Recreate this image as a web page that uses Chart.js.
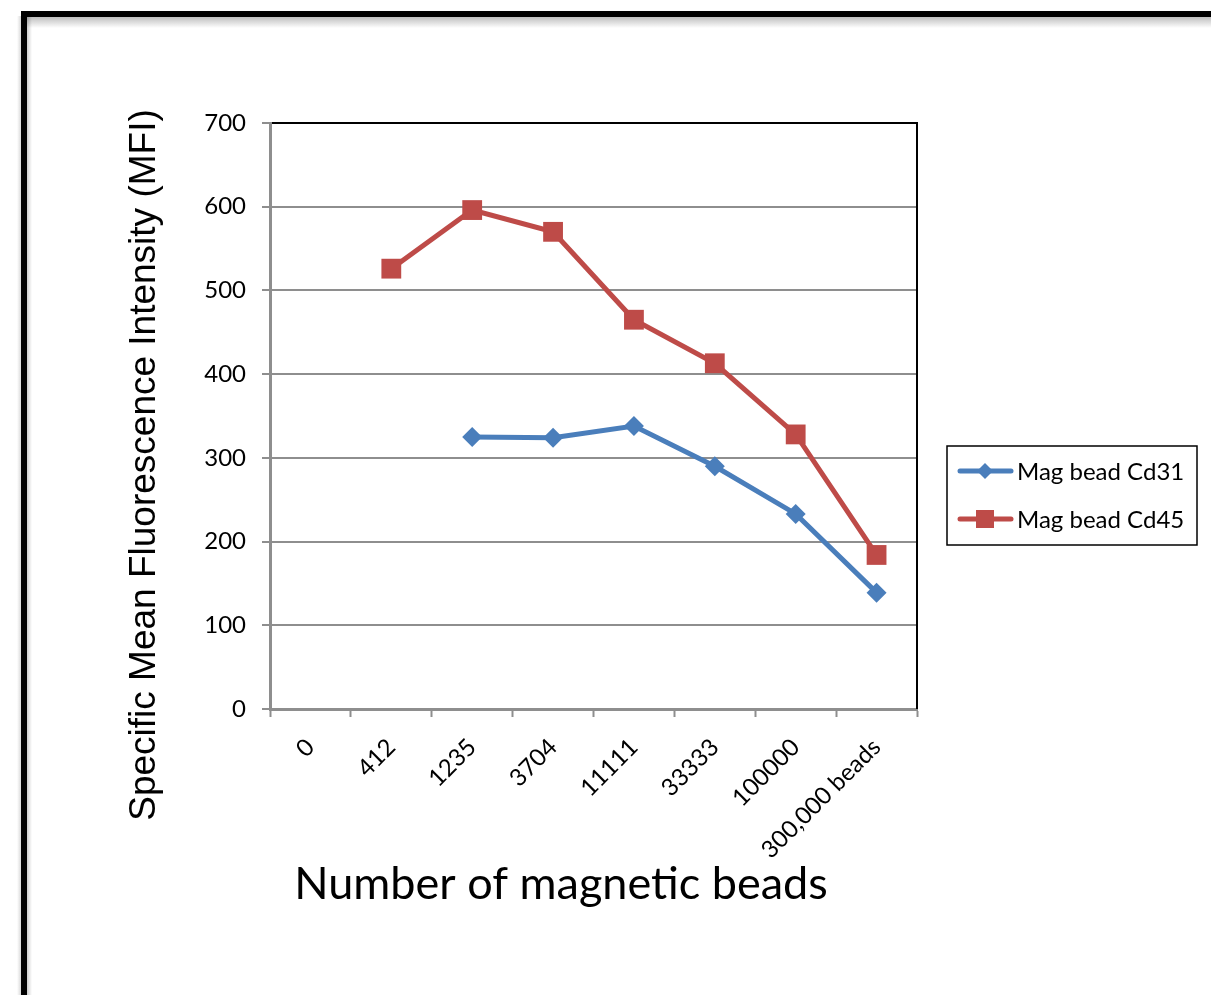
<!DOCTYPE html>
<html>
<head>
<meta charset="utf-8">
<script src="https://cdn.jsdelivr.net/npm/chart.js@4.4.0/dist/chart.umd.min.js"></script>
<style>
html,body{margin:0;padding:0;background:#fff;}
#c{display:block;}
</style>
</head>
<body>
<canvas id="c" width="1211" height="995"></canvas>
<script>
const categories = ['0', '412', '1235', '3704', '11111', '33333', '100000', '300,000 beads'];
const cd31Values = [null, null, 325, 324, 338, 290, 233, 139];
const cd45Values = [null, 526, 596, 570, 465, 413, 328, 184];
const seriesNames = ['Mag bead Cd31', 'Mag bead Cd45'];
const yTickValues = [0, 100, 200, 300, 400, 500, 600, 700];
const xAxisTitle = 'Number of magnetic beads';
const yAxisTitle = 'Specific Mean Fluorescence Intensity (MFI)';

const BLUE = '#4A7EBB';
const RED = '#BE4B48';
const GRID = '#8e8e8e';
const TICKFONT = 'Lato';

const framePlugin = {
  id: 'frame',
  beforeDraw(chart) {
    const ctx = chart.ctx;
    ctx.save();
    ctx.fillStyle = '#fff';
    ctx.fillRect(0, 0, chart.width, chart.height);
    let g = ctx.createLinearGradient(0, 16, 0, 28);
    g.addColorStop(0, 'rgba(0,0,0,0.28)');
    g.addColorStop(1, 'rgba(0,0,0,0)');
    ctx.fillStyle = g;
    ctx.fillRect(26, 16, chart.width, 12);
    g = ctx.createLinearGradient(27, 0, 32, 0);
    g.addColorStop(0, 'rgba(0,0,0,0.2)');
    g.addColorStop(1, 'rgba(0,0,0,0)');
    ctx.fillStyle = g;
    ctx.fillRect(27, 16, 5, chart.height);
    g = ctx.createLinearGradient(17, 0, 21, 0);
    g.addColorStop(0, 'rgba(0,0,0,0)');
    g.addColorStop(1, 'rgba(0,0,0,0.15)');
    ctx.fillStyle = g;
    ctx.fillRect(17, 16, 4, chart.height);
    ctx.fillStyle = '#000';
    ctx.fillRect(21, 11, chart.width, 6);
    ctx.fillRect(21, 11, 6, chart.height);
    ctx.restore();
  },
  beforeDatasetsDraw(chart) {
    const ctx = chart.ctx;
    const a = chart.chartArea;
    ctx.save();
    ctx.strokeStyle = '#000';
    ctx.lineWidth = 2;
    ctx.beginPath();
    ctx.moveTo(a.right, a.top - 1);
    ctx.lineTo(a.right, a.bottom);
    ctx.stroke();
    ctx.restore();
  },
  afterDraw(chart) {
    const ctx = chart.ctx;
    ctx.save();
    ctx.fillStyle = '#000';
    ctx.textAlign = 'center';
    ctx.textBaseline = 'alphabetic';
    ctx.font = '45px ' + TICKFONT;
    ctx.fillText(xAxisTitle, 561, 899);
    ctx.save();
    ctx.translate(155, 465);
    ctx.rotate(-Math.PI / 2);
    ctx.font = '37px "Liberation Sans"';
    ctx.fillText(yAxisTitle, 0, 0);
    ctx.restore();

    const bx = 947, by = 446, bw = 250, bh = 99;
    ctx.strokeStyle = '#000';
    ctx.lineWidth = 1.5;
    ctx.strokeRect(bx, by, bw, bh);
    const items = chart.data.datasets;
    const ys = [471, 519];
    items.forEach((ds, i) => {
      const y = ys[i];
      ctx.strokeStyle = ds.borderColor;
      ctx.lineWidth = 5;
      ctx.lineCap = 'round';
      ctx.beginPath();
      ctx.moveTo(960, y);
      ctx.lineTo(1011, y);
      ctx.stroke();
      ctx.fillStyle = ds.borderColor;
      if (ds.pointStyle === 'rectRot') {
        ctx.beginPath();
        ctx.moveTo(985 - 8, y);
        ctx.lineTo(985, y - 8);
        ctx.lineTo(985 + 8, y);
        ctx.lineTo(985, y + 8);
        ctx.closePath();
        ctx.fill();
      } else {
        ctx.fillRect(985 - 9, y - 9, 18, 18);
      }
      ctx.fillStyle = '#000';
      ctx.textAlign = 'left';
      ctx.textBaseline = 'middle';
      ctx.font = '24px ' + TICKFONT;
      ctx.fillText(ds.label, 1017, y + 1);
    });
    ctx.restore();
  }
};

new Chart(document.getElementById('c'), {
  type: 'line',
  data: {
    labels: categories,
    datasets: [
      {
        label: seriesNames[0],
        data: cd31Values,
        borderColor: BLUE,
        backgroundColor: BLUE,
        borderWidth: 5,
        pointStyle: 'rectRot',
        pointRadius: 10,
        pointBorderWidth: 0,
        pointHoverRadius: 10,
        tension: 0
      },
      {
        label: seriesNames[1],
        data: cd45Values,
        borderColor: RED,
        backgroundColor: RED,
        borderWidth: 5,
        pointStyle: 'rect',
        pointRadius: 14,
        pointBorderWidth: 0,
        pointHoverRadius: 14,
        tension: 0
      }
    ]
  },
  options: {
    responsive: false,
    animation: false,
    events: [],
    layout: { padding: { left: 0, top: 123, right: 294, bottom: 0 } },
    plugins: { legend: { display: false }, tooltip: { enabled: false }, title: { display: false } },
    scales: {
      x: {
        type: 'category',
        offset: true,
        afterFit(s) { s.height = 995 - 709; },
        grid: {
          offset: true,
          drawOnChartArea: false,
          drawTicks: true,
          tickLength: 8,
          tickWidth: 2,
          tickColor: GRID,
          color: GRID
        },
        border: { display: true, color: GRID, width: 3 },
        ticks: {
          autoSkip: false,
          minRotation: 45,
          maxRotation: 45,
          padding: 16,
          color: '#000',
          font: { family: TICKFONT, size: 24 }
        }
      },
      y: {
        min: 0,
        max: 700,
        afterFit(s) { s.width = 270; },
        afterBuildTicks(s) { s.ticks = yTickValues.map(v => ({ value: v })); },
        grid: {
          drawTicks: true,
          tickLength: 8,
          lineWidth: 2,
          color: (c) => (c.tick && c.tick.value === 700 ? '#000' : GRID),
          tickColor: GRID
        },
        border: { display: true, color: GRID, width: 3 },
        ticks: {
          padding: 16,
          color: '#000',
          font: { family: TICKFONT, size: 24 }
        }
      }
    }
  },
  plugins: [framePlugin]
});
</script>
</body>
</html>
